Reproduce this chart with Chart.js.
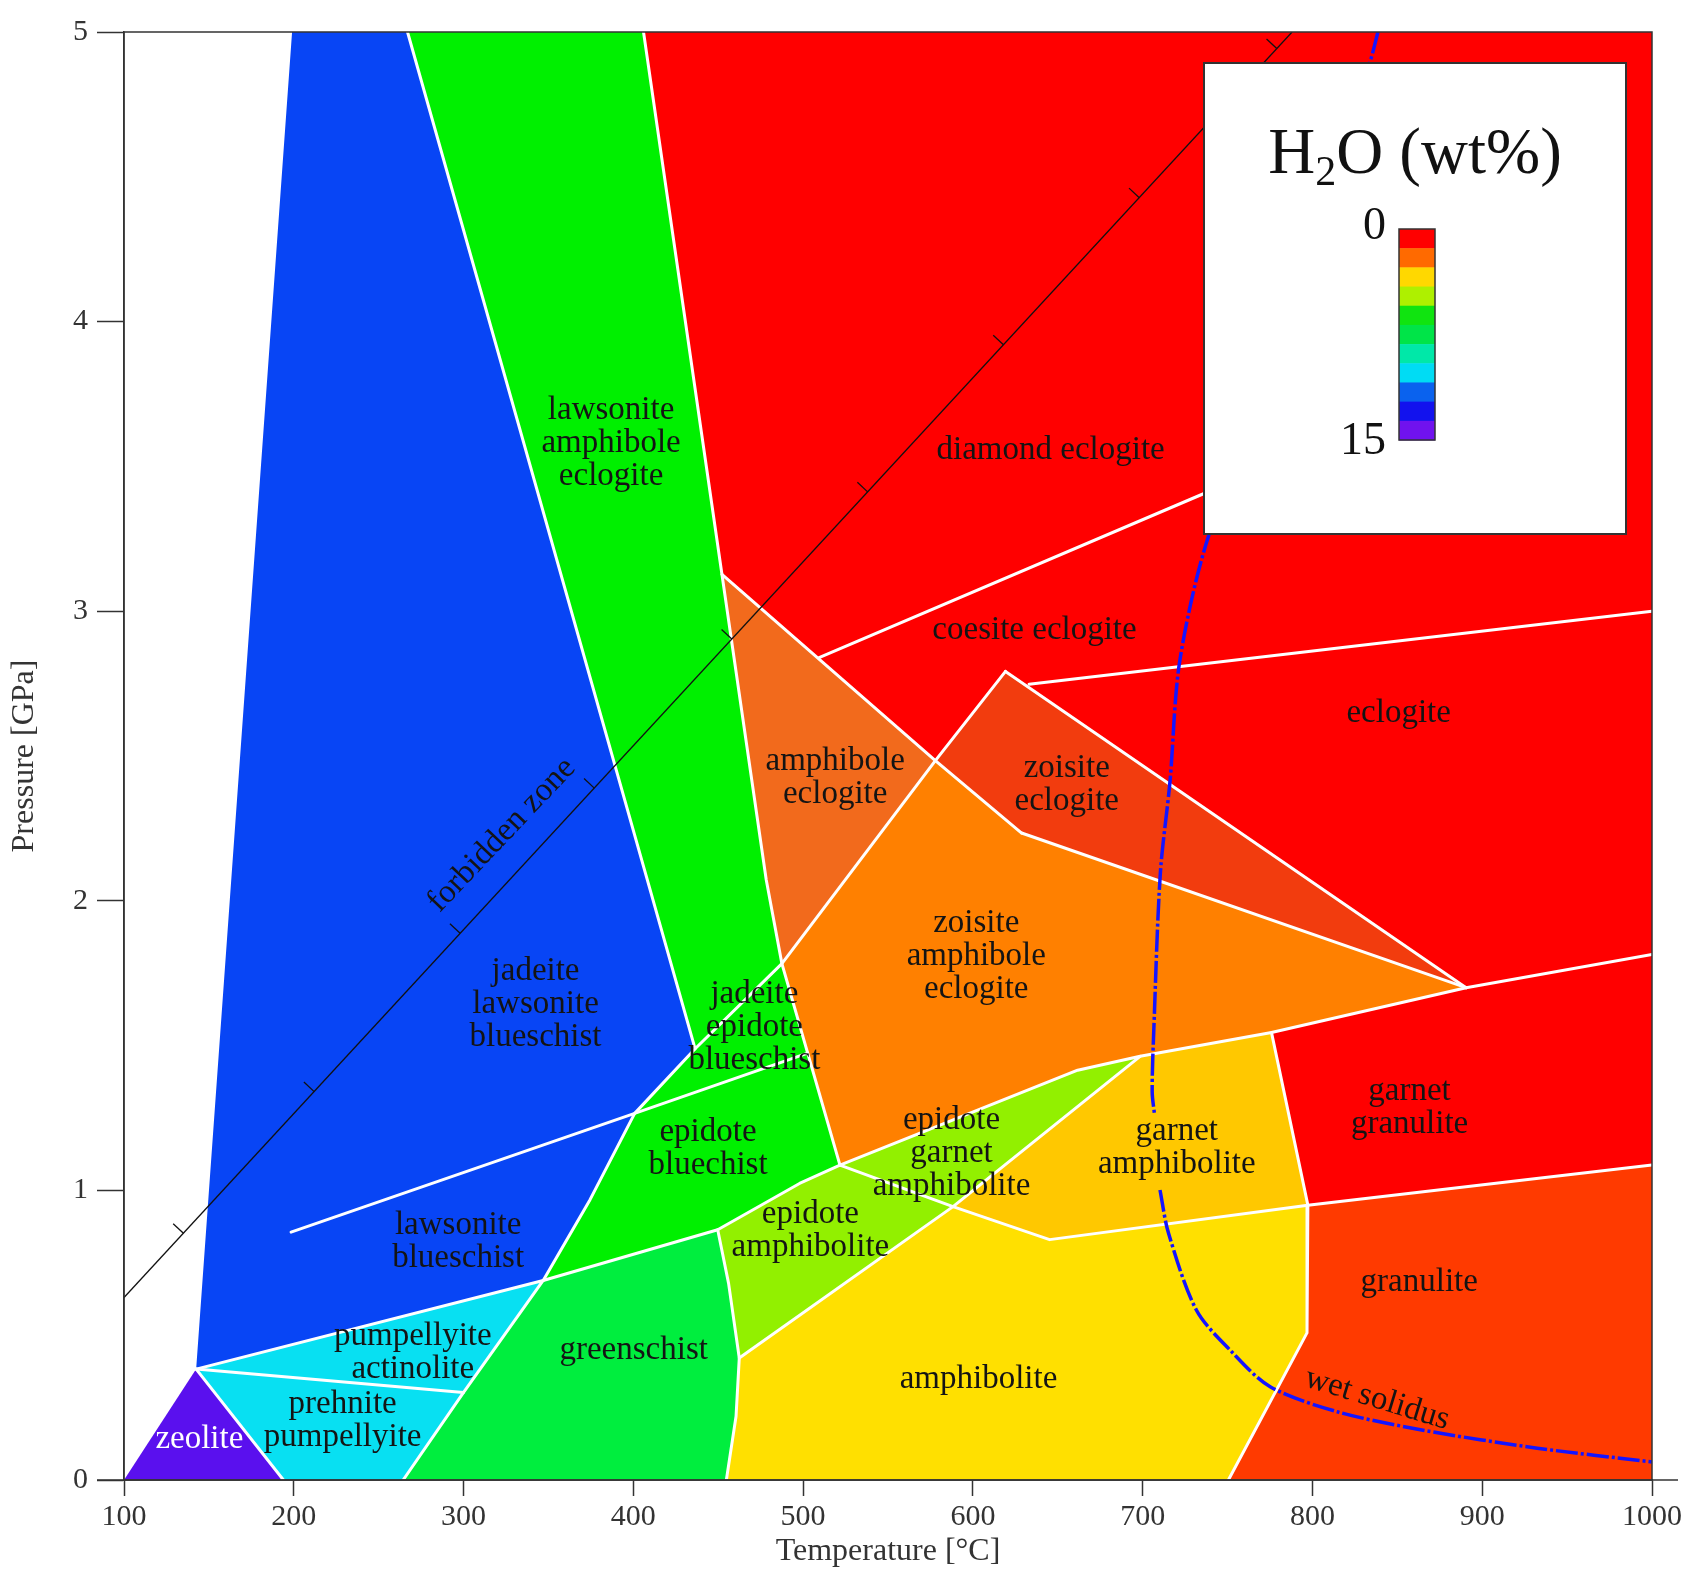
<!DOCTYPE html>
<html>
<head>
<meta charset="utf-8">
<script src="https://cdn.jsdelivr.net/npm/chart.js@4.4.1/dist/chart.umd.min.js"></script>
<style>
  html, body { margin: 0; padding: 0; background: #ffffff; }
  canvas { display: block; }
</style>
</head>
<body>
<canvas id="facies" width="1690" height="1573"></canvas>
<script>
// Axis ticks
const tempTicks = [100, 200, 300, 400, 500, 600, 700, 800, 900, 1000];   // °C
const pressTicks = [0, 1, 2, 3, 4, 5];                                    // GPa

// Metamorphic facies fields, vertices as [T (°C), P (GPa)]
const eclogiteField        = [[406, 5], [1000, 5], [1000, 0], [454.8, 0], [452.2, 3.127]];
const blueschistField      = [[199, 5], [267, 5], [436.4, 1.489], [400.8, 1.266], [374.5, 0.968], [346.9, 0.689], [142.5, 0.383]];
const lawsAmphEclField     = [[267, 5], [406, 5], [452.2, 3.127], [478.3, 2.072], [487.5, 1.783], [502.7, 1.474], [521.7, 1.087],
                              [497.9, 1.024], [449.7, 0.864], [346.9, 0.689], [374.5, 0.968], [400.8, 1.266], [436.4, 1.489]];
const greenschistField     = [[346.9, 0.689], [449.7, 0.864], [456.1, 0.679], [462.4, 0.421], [460.5, 0.22], [454.8, 0], [264.4, 0], [299.9, 0.302]];
const pumpellyiteField     = [[142.5, 0.383], [346.9, 0.689], [299.9, 0.302], [264.4, 0], [193.9, 0]];
const zeoliteField         = [[100, 0], [142.5, 0.383], [193.9, 0]];
const amphEclogiteField    = [[452.2, 3.127], [577.9, 2.484], [487.5, 1.783], [478.3, 2.072]];
const zoisiteEclogiteField = [[577.9, 2.484], [619.2, 2.792], [890.5, 1.700], [628.7, 2.234]];
const zoisAmphEclField     = [[487.5, 1.783], [577.9, 2.484], [628.7, 2.234], [890.5, 1.700], [775.9, 1.545], [698.5, 1.463],
                              [661.7, 1.415], [521.7, 1.087], [502.7, 1.474]];
const epidoteAmphField     = [[449.7, 0.864], [497.9, 1.024], [521.7, 1.087], [661.7, 1.415], [698.5, 1.463], [588.3, 0.944],
                              [462.4, 0.421], [456.1, 0.679]];
const garnetAmphField      = [[698.5, 1.463], [775.9, 1.545], [797.3, 0.949], [645.2, 0.830], [588.3, 0.944]];
const amphiboliteField     = [[588.3, 0.944], [645.2, 0.830], [797.3, 0.949], [796.8, 0.508], [750.5, 0], [454.8, 0], [460.5, 0.22], [462.4, 0.421]];
const granuliteField       = [[797.3, 0.949], [1000, 1.088], [1000, 0], [750.5, 0], [796.8, 0.508]];

const fieldShapes = [eclogiteField, blueschistField, lawsAmphEclField, greenschistField, pumpellyiteField, zeoliteField,
                     amphEclogiteField, zoisiteEclogiteField, zoisAmphEclField, epidoteAmphField, garnetAmphField,
                     amphiboliteField, granuliteField];
const fieldColors = ['#ff0000', '#0845f5', '#00f000', '#00ee3e', '#08e0f2', '#5a10ee',
                     '#f26a1c', '#f23c0e', '#ff8000', '#92f000', '#ffc800',
                     '#ffe000', '#ff3a00'];

// Field boundaries
const bounds = [
  [[267, 5], [436.4, 1.489], [400.8, 1.266], [374.5, 0.968], [346.9, 0.689]],
  [[406, 5], [452.2, 3.127], [478.3, 2.072], [487.5, 1.783], [502.7, 1.474], [521.7, 1.087]],
  [[436.4, 1.489], [487.5, 1.783]],
  [[198.4, 0.856], [400.8, 1.266], [502.7, 1.474]],
  [[142.5, 0.383], [346.9, 0.689], [449.7, 0.864], [497.9, 1.024], [521.7, 1.087]],
  [[142.5, 0.383], [299.9, 0.302]],
  [[346.9, 0.689], [299.9, 0.302], [264.4, 0]],
  [[142.5, 0.383], [193.9, 0]],
  [[449.7, 0.864], [456.1, 0.679], [462.4, 0.421], [460.5, 0.22], [454.8, 0]],
  [[452.2, 3.127], [577.9, 2.484], [628.7, 2.234]],
  [[487.5, 1.783], [577.9, 2.484], [619.2, 2.792]],
  [[619.2, 2.792], [890.5, 1.700]],
  [[628.7, 2.234], [890.5, 1.700]],
  [[890.5, 1.700], [775.9, 1.545], [698.5, 1.463], [661.7, 1.415], [521.7, 1.087]],
  [[890.5, 1.700], [1000, 1.815]],
  [[698.5, 1.463], [588.3, 0.944], [462.4, 0.421]],
  [[521.7, 1.087], [588.3, 0.944]],
  [[588.3, 0.944], [645.2, 0.830], [797.3, 0.949], [1000, 1.088]],
  [[775.9, 1.545], [797.3, 0.949], [796.8, 0.508], [750.5, 0]],
  [[633.1, 2.748], [1000, 3.0]],
  [[509.4, 2.84], [760, 3.466]]
];

// Forbidden-zone limit and its hatch ticks
const forbiddenLine  = [[100, 0.63], [788, 5]];
const forbiddenTickT = [135, 212, 298, 377, 458, 538, 618, 698, 779];
const forbiddenTickP = [0.852, 1.341, 1.888, 2.389, 2.904, 3.412, 3.920, 4.428, 4.943];

// Wet solidus (upper branch and lower branch, broken by the label)
const solidusUpper = [[838.6, 5.0], [833.5, 4.889], [738.3, 3.25], [721.8, 2.826], [716.1, 2.412], [710.4, 2.094],
                      [706.6, 1.56], [705.6, 1.34], [706.9, 1.266]];
const solidusLower = [[710.2, 1.0015], [715.2, 0.853], [731.7, 0.586], [751.6, 0.448], [775.1, 0.322], [815.1, 0.235],
                      [865.2, 0.172], [932.4, 0.110], [999.1, 0.063], [1000, 0.062]];

// Field names, anchored at [T, P]
const fieldLabels = [
  ['lawsonite\namphibole\neclogite', 386.9, 3.581],
  ['diamond eclogite', 645.8, 3.555],
  ['coesite eclogite', 636.3, 2.934],
  ['eclogite', 850.8, 2.647],
  ['amphibole\neclogite', 518.9, 2.424],
  ['zoisite\neclogite', 655.3, 2.401],
  ['zoisite\namphibole\neclogite', 602, 1.809],
  ['jadeite\nlawsonite\nblueschist', 342.4, 1.642],
  ['jadeite\nepidote\nblueschist', 471.3, 1.564],
  ['epidote\nbluechist', 444, 1.143],
  ['epidote\ngarnet\namphibolite', 587.4, 1.128],
  ['garnet\namphibolite', 720.1, 1.147],
  ['garnet\ngranulite', 857.2, 1.284],
  ['lawsonite\nblueschist', 296.8, 0.823],
  ['epidote\namphibolite', 504.3, 0.860],
  ['granulite', 862.9, 0.681],
  ['pumpellyite\nactinolite', 270.1, 0.439],
  ['greenschist', 400.2, 0.447],
  ['amphibolite', 603.3, 0.346],
  ['prehnite\npumpellyite', 228.8, 0.205]
];

// H2O colour scale
const h2oBands = ['#ff0000', '#ff6a00', '#ffd800', '#aef000', '#10e410', '#00e448', '#00e8a8', '#00dcf4', '#0a62ee', '#1212ee', '#7012ee'];
const h2oTickLabels = ['0', '15'];

const SERIF = '"Liberation Serif", "Times New Roman", serif';
const toXY = pts => pts.map(([x, y]) => ({ x, y }));

const datasets = [];
fieldShapes.forEach((pts, i) => {
  datasets.push({
    data: toXY(pts.concat([pts[0]])),
    fill: 'shape',
    backgroundColor: fieldColors[i],
    borderColor: 'rgba(0,0,0,0)',
    borderWidth: 0,
    pointRadius: 0,
    tension: 0,
    order: 100 - i
  });
});
bounds.forEach(pts => {
  datasets.push({
    data: toXY(pts), fill: false, borderColor: '#ffffff', borderWidth: 3,
    pointRadius: 0, tension: 0, order: 20, borderCapStyle: 'round', borderJoinStyle: 'round'
  });
});
datasets.push({
  data: toXY(forbiddenLine), fill: false, borderColor: '#111111', borderWidth: 1.3,
  pointRadius: 0, tension: 0, order: 10
});
datasets.push({
  data: forbiddenTickT.map((t, i) => ({ x: t, y: forbiddenTickP[i] })),
  showLine: false, fill: false,
  pointStyle: 'dash', pointRadius: 14, pointRotation: 223,
  pointBorderColor: '#111111', pointBorderWidth: 1.3, pointBackgroundColor: '#111111',
  order: 9
});
[solidusUpper, solidusLower].forEach(pts => {
  datasets.push({
    data: toXY(pts), fill: false, borderColor: '#1414ff', borderWidth: 3.5,
    borderDash: [22, 3, 3, 3], pointRadius: 0, tension: 0.3, order: 5
  });
});

const overlay = {
  id: 'overlay',
  afterDatasetsDraw(chart) {
    const { ctx, chartArea: a, scales: { x, y } } = chart;
    ctx.save();

    // plot frame
    ctx.strokeStyle = '#333333';
    ctx.lineWidth = 1.5;
    ctx.strokeRect(a.left, a.top, a.right - a.left, a.bottom - a.top);
    ctx.beginPath();
    ctx.moveTo(a.left - 27, a.bottom);
    ctx.lineTo(a.right + 26, a.bottom);
    ctx.stroke();

    // field names
    ctx.textAlign = 'center';
    ctx.textBaseline = 'middle';
    ctx.font = '33px ' + SERIF;
    ctx.fillStyle = '#141414';
    fieldLabels.forEach(([text, t, p]) => {
      const lines = text.split('\n');
      const cx = x.getPixelForValue(t), cy = y.getPixelForValue(p);
      lines.forEach((ln, i) => ctx.fillText(ln, cx, cy + (i - (lines.length - 1) / 2) * 33));
    });
    ctx.fillStyle = '#ffffff';
    ctx.fillText('zeolite', x.getPixelForValue(144.4), y.getPixelForValue(0.141));

    // rotated annotations
    ctx.fillStyle = '#141414';
    ctx.save();
    ctx.translate(x.getPixelForValue(322.5), y.getPixelForValue(2.227));
    ctx.rotate(-46.5 * Math.PI / 180);
    ctx.fillText('forbidden zone', 0, 0);
    ctx.restore();
    ctx.save();
    ctx.translate(x.getPixelForValue(838.1), y.getPixelForValue(0.279));
    ctx.rotate(17 * Math.PI / 180);
    ctx.fillText('wet solidus', 0, 0);
    ctx.restore();

    // H2O colour-scale box
    const bx = a.right - 448, by = a.top + 31, bw = 422, bh = 471;
    ctx.fillStyle = '#ffffff';
    ctx.fillRect(bx, by, bw, bh);
    ctx.strokeStyle = '#333333';
    ctx.lineWidth = 2;
    ctx.strokeRect(bx, by, bw, bh);

    // title H2O (wt%)
    ctx.fillStyle = '#111111';
    ctx.textAlign = 'left';
    ctx.textBaseline = 'alphabetic';
    const big = '65px ' + SERIF, small = '42px ' + SERIF;
    ctx.font = big; const wH = ctx.measureText('H').width; const wRest = ctx.measureText('O (wt%)').width;
    ctx.font = small; const w2 = ctx.measureText('2').width;
    const tw = wH + w2 + wRest;
    let tx = bx + 211 - tw / 2;
    const base = by + 110;
    ctx.font = big; ctx.fillText('H', tx, base); tx += wH;
    ctx.font = small; ctx.fillText('2', tx, base + 12); tx += w2;
    ctx.font = big; ctx.fillText('O (wt%)', tx, base);

    // colour bar
    const cbx = bx + 195, cby = by + 166, cbw = 36, cbh = 211;
    const bandH = cbh / h2oBands.length;
    h2oBands.forEach((c, i) => {
      ctx.fillStyle = c;
      ctx.fillRect(cbx, cby + i * bandH, cbw, bandH + 0.5);
    });
    ctx.strokeStyle = '#333333';
    ctx.lineWidth = 1.5;
    ctx.strokeRect(cbx, cby, cbw, cbh);
    ctx.fillStyle = '#111111';
    ctx.font = '46px ' + SERIF;
    ctx.textAlign = 'right';
    ctx.textBaseline = 'middle';
    ctx.fillText(h2oTickLabels[0], cbx - 13, cby - 2);
    ctx.fillText(h2oTickLabels[1], cbx - 13, cby + cbh + 2);

    ctx.restore();
  }
};

const tickFont = { family: SERIF, size: 30 };
new Chart(document.getElementById('facies'), {
  type: 'line',
  data: { datasets },
  plugins: [overlay],
  options: {
    responsive: false,
    animation: false,
    devicePixelRatio: 1,
    layout: { padding: { top: 32, right: 38, left: 0, bottom: 0 } },
    plugins: { legend: { display: false }, tooltip: { enabled: false } },
    elements: { line: { tension: 0 } },
    scales: {
      x: {
        type: 'linear', min: 100, max: 1000,
        afterBuildTicks: s => { s.ticks = tempTicks.map(v => ({ value: v })); },
        afterFit: s => { s.height = 93; },
        ticks: { font: tickFont, color: '#333333', padding: 3, maxRotation: 0, autoSkip: false,
                 callback: v => String(v) },
        grid: { drawOnChartArea: false, tickLength: 16, tickColor: '#333333', tickWidth: 1.5 },
        border: { display: true, color: '#333333', width: 1.5 },
        title: { display: true, text: 'Temperature [°C]', color: '#333333',
                 font: { family: SERIF, size: 32 }, padding: { top: 0, bottom: 2 } }
      },
      y: {
        type: 'linear', min: 0, max: 5,
        afterBuildTicks: s => { s.ticks = pressTicks.map(v => ({ value: v })); },
        afterFit: s => { s.width = 124; },
        ticks: { font: tickFont, color: '#333333', padding: 9, callback: v => String(v) },
        grid: { drawOnChartArea: false, tickLength: 27, tickColor: '#333333', tickWidth: 1.5 },
        border: { display: true, color: '#333333', width: 1.5 },
        title: { display: true, text: 'Pressure [GPa]', color: '#333333',
                 font: { family: SERIF, size: 32 }, padding: { top: 5, bottom: 0 } }
      }
    }
  }
});
</script>
</body>
</html>
